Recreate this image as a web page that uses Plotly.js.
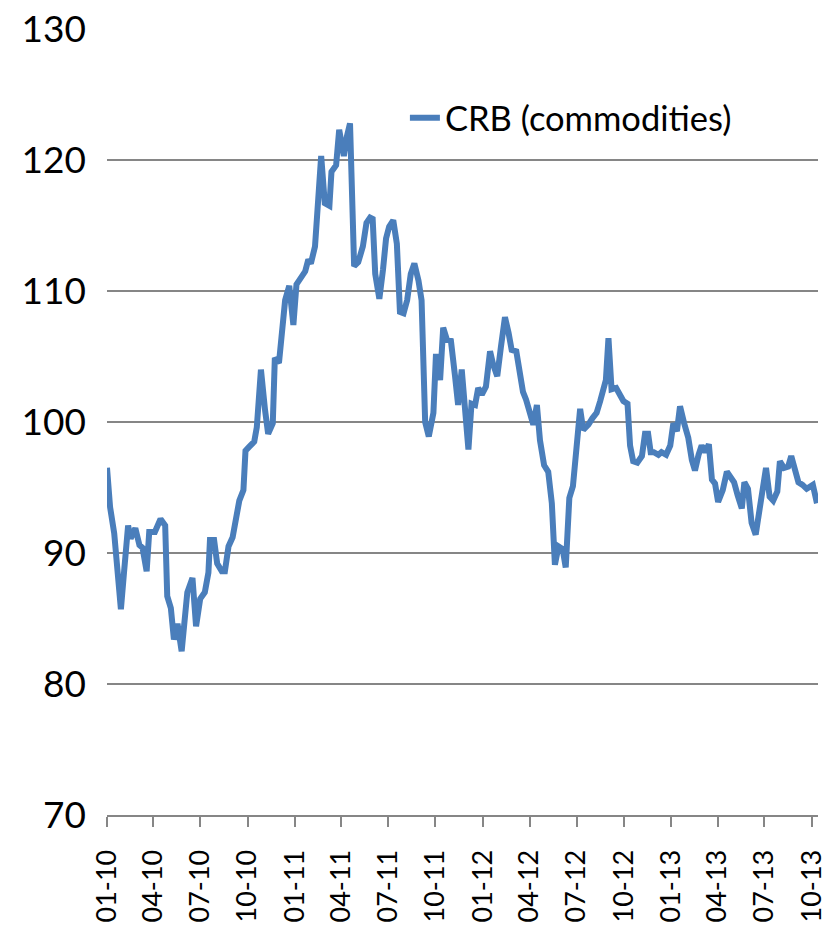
<!DOCTYPE html>
<html>
<head>
<meta charset="utf-8">
<script src="https://cdn.plot.ly/plotly-3.0.1.min.js"></script>
<style>
html,body{margin:0;padding:0;background:#fff;}
#chart{width:825px;height:927px;}
</style>
</head>
<body>
<div id="chart"></div>
<script>
const dayOffsets = [
0,6,14,19,27,33,41,46,55,63,69,77,82,93,104,113,117,124,130,137,
145,156,166,173,181,190,197,200,208,214,223,229,236,244,252,257,265,269,276,286,
291,299,307,313,322,326,334,339,346,354,362,368,378,385,391,396,404,410,416,423,
432,436,445,451,460,466,472,480,488,497,504,511,516,521,529,536,542,548,556,563,
569,576,583,590,597,605,611,618,625,634,639,647,653,660,668,676,682,689,695,702,
708,715,721,728,736,744,750,758,765,773,780,786,795,801,808,814,822,828,835,841,
849,857,864,870,877,885,891,898,905,911,919,925,935,943,951,958,964,969,974,980,
989,997,1003,1011,1016,1022,1030,1039,1045,1051,1056,1062,1071,1077,1086,1094,1100,1107,1113,1121,
1129,1136,1142,1149,1155,1162,1169,1175,1181,1187,1196,1204,1211,1218,1225,1233,1238,1245,1252,1260,
1267,1274,1280,1287,1294,1302,1307,1315,1323,1329,1336,1343,1351,1359,1371,1379
];
// CRB (commodities) index values
const crbValues = [
96.5,93.5,91.5,89.5,85.7,88.5,92.1,91.1,91.9,90.6,90.4,88.6,91.6,91.6,92.6,92.1,86.7,85.8,83.4,84.6,
82.5,87.0,88.1,84.4,86.5,87.0,88.5,91.0,91.0,89.2,88.6,88.6,90.5,91.2,92.9,94.0,94.8,97.8,98.1,98.5,
99.6,104.0,100.9,99.1,99.9,104.9,104.5,106.3,109.3,110.4,107.4,110.5,111.0,111.5,112.4,112.1,113.4,116.4,120.3,116.7,
116.5,119.1,119.6,122.3,120.3,121.8,122.8,111.9,112.2,113.4,115.2,115.6,115.5,111.3,109.4,111.6,114.0,114.9,115.4,113.6,
108.4,108.3,109.3,111.3,112.1,110.8,109.3,100.0,98.9,100.7,105.2,103.2,107.2,106.3,106.2,103.5,101.3,104.0,101.7,97.9,
101.4,101.3,102.6,102.1,102.7,105.4,104.4,103.5,105.7,108.0,106.8,105.5,105.4,104.2,102.3,101.7,100.4,99.8,101.3,98.6,
96.7,96.2,93.8,89.1,90.5,90.3,88.9,94.2,95.1,97.6,101.0,99.4,99.8,100.3,100.7,101.6,102.7,103.2,106.4,102.5,
102.6,101.9,101.6,101.4,98.2,97.0,96.9,97.4,99.1,99.1,97.7,97.7,97.5,97.7,97.5,98.2,99.9,99.3,101.2,99.9,
98.8,97.1,96.3,97.5,98.2,97.7,98.3,95.6,95.3,93.9,94.8,96.2,95.8,95.4,94.4,93.4,95.4,94.9,92.3,91.4,
93.2,95.1,96.5,94.3,94.0,94.7,97.0,96.5,96.6,97.4,96.5,95.4,95.2,94.9,95.2,93.8
];
const seriesName = "CRB (commodities)";
const yTicks = [70, 80, 90, 100, 110, 120, 130];
const xTickDates = ["2010-01-01","2010-04-01","2010-07-01","2010-10-01","2011-01-01","2011-04-01",
  "2011-07-01","2011-10-01","2012-01-01","2012-04-01","2012-07-01","2012-10-01","2013-01-01",
  "2013-04-01","2013-07-01","2013-10-01"];
const xTickLabels = ["01-10","04-10","07-10","10-10","01-11","04-11","07-11","10-11","01-12",
  "04-12","07-12","10-12","01-13","04-13","07-13","10-13"];

const base = Date.UTC(2010, 0, 1);
const dates = dayOffsets.map(d => new Date(base + d * 86400000).toISOString().slice(0, 10));

const FONT = "Lato, 'Open Sans', sans-serif";

const trace = {
  x: dates,
  y: crbValues,
  type: "scatter",
  mode: "lines",
  name: seriesName,
  line: {color: "#4a7ebb", width: 6, shape: "linear"},
  hoverinfo: "x+y"
};

const layout = {
  width: 825,
  height: 927,
  margin: {l: 107, r: 7, t: 29, b: 112, pad: 0},
  paper_bgcolor: "#ffffff",
  plot_bgcolor: "#ffffff",
  font: {family: FONT, size: 34, color: "#000000"},
  showlegend: true,
  legend: {
    x: 0.419, y: 0.887, xanchor: "left", yanchor: "middle",
    bgcolor: "rgba(0,0,0,0)", borderwidth: 0,
    font: {family: FONT, size: 34.5, color: "#000000"}
  },
  xaxis: {
    type: "date",
    range: ["2010-01-01", "2013-10-13"],
    tickmode: "array",
    tickvals: xTickDates,
    ticktext: xTickLabels,
    tickangle: -90,
    ticks: "outside",
    ticklen: 10,
    tickwidth: 2,
    tickcolor: "#868686",
    showline: true,
    linecolor: "#868686",
    linewidth: 2,
    showgrid: false,
    zeroline: false,
    tickfont: {family: FONT, size: 27, color: "#000000"},
    ticklabelstandoff: 12,
    ticklabeloverflow: "allow"
  },
  yaxis: {
    range: [70, 130],
    tickmode: "array",
    tickvals: yTicks,
    ticktext: yTicks.map(String),
    showgrid: true,
    gridcolor: "#868686",
    gridwidth: 2,
    showline: false,
    zeroline: false,
    ticks: "",
    tickfont: {family: FONT, size: 37, color: "#000000"},
    ticklabelstandoff: 20
  }
};

Plotly.newPlot("chart", [trace], layout, {displayModeBar: false, staticPlot: true});
</script>
</body>
</html>
